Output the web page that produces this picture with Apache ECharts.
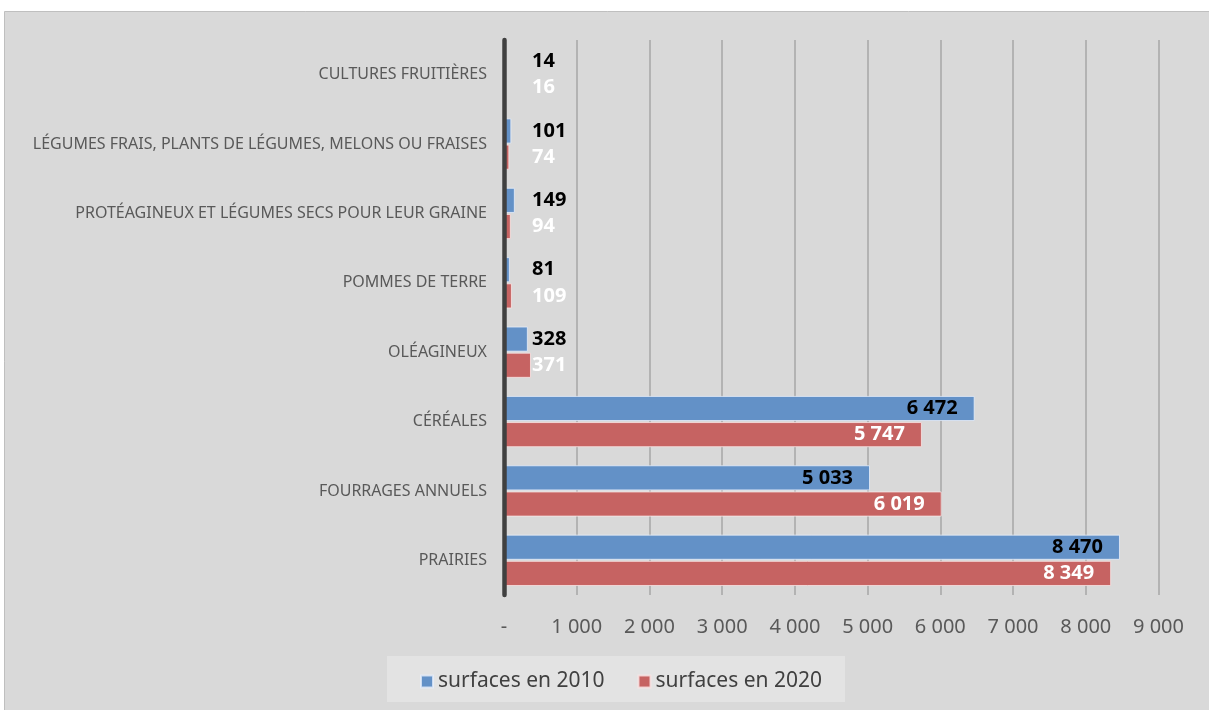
<!DOCTYPE html>
<html>
<head>
<meta charset="utf-8">
<script src="https://cdn.jsdelivr.net/npm/echarts@6/dist/echarts.min.js"></script>
<style>
html,body{margin:0;padding:0;background:#ffffff;}
#chart{width:1209px;height:710px;}
</style>
</head>
<body>
<div id="chart"></div>
<script>
const categories = [
  "CULTURES FRUITIÈRES",
  "LÉGUMES FRAIS, PLANTS DE LÉGUMES, MELONS OU FRAISES",
  "PROTÉAGINEUX ET LÉGUMES SECS POUR LEUR GRAINE",
  "POMMES DE TERRE",
  "OLÉAGINEUX",
  "CÉRÉALES",
  "FOURRAGES ANNUELS",
  "PRAIRIES"
];
const surfaces2010 = [14, 101, 149, 81, 328, 6472, 5033, 8470];
const surfaces2020 = [16, 74, 94, 109, 371, 5747, 6019, 8349];
const xTicks = [0, 1000, 2000, 3000, 4000, 5000, 6000, 7000, 8000, 9000];

function fmt(v) {
  if (v === 0) return '-';
  return String(v).replace(/\B(?=(\d{3})+(?!\d))/g, ' ');
}

function buildData(values, color) {
  return values.map(v => {
    const small = v < 1000;
    return {
      value: v,
      label: small
        ? { show: true, position: [28, '50%'], align: 'left', verticalAlign: 'middle', color: color }
        : { show: true, position: 'insideRight', offset: [-12, 0], color: color }
    };
  });
}

const chart = echarts.init(document.getElementById('chart'));
const labelFont = { fontFamily: 'Noto Sans', fontWeight: 'bold', fontSize: 20, formatter: p => fmt(p.value) };

chart.setOption({
  animation: false,
  backgroundColor: '#ffffff',
  graphic: [
    { type: 'rect', z: -10, shape: { x: 4.5, y: 11.5, width: 1220, height: 720 },
      style: { fill: '#d9d9d9', stroke: '#bfbfbf', lineWidth: 1 } },
    { type: 'rect', z: -9, shape: { x: 387, y: 656, width: 458, height: 46 },
      style: { fill: '#e3e3e3', stroke: null } }
  ],
  grid: { left: 504, right: 50.5, top: 40, bottom: 115, containLabel: false },
  legend: {
    data: ['surfaces en 2010', 'surfaces en 2020'],
    left: 415,
    top: 666,
    itemWidth: 12,
    itemHeight: 12,
    itemGap: 33,
    icon: 'rect',
    textStyle: { fontFamily: 'Noto Sans', fontSize: 21, color: '#404040' }
  },
  xAxis: {
    type: 'value',
    min: 0,
    max: 9000,
    interval: 1000,
    axisLine: { show: false },
    axisTick: { show: false },
    splitLine: { show: true, lineStyle: { color: '#a6a6a6', width: 1.5 } },
    axisLabel: {
      margin: 22,
      fontFamily: 'Noto Sans',
      fontSize: 20,
      color: '#595959',
      customValues: xTicks,
      formatter: v => fmt(v)
    }
  },
  yAxis: {
    type: 'category',
    data: categories,
    inverse: true,
    z: 5,
    axisLine: { show: true, lineStyle: { color: '#404040', width: 4.5 } },
    axisTick: { show: false },
    axisLabel: { margin: 17, fontFamily: 'Noto Sans', fontSize: 16, color: '#595959' }
  },
  series: [
    {
      name: 'surfaces en 2010',
      type: 'bar',
      data: buildData(surfaces2010, '#000000'),
      barGap: '4%',
      barCategoryGap: '26%',
      itemStyle: { color: '#6391c7', borderColor: 'rgba(230,238,250,0.8)', borderWidth: 1 },
      label: labelFont
    },
    {
      name: 'surfaces en 2020',
      type: 'bar',
      data: buildData(surfaces2020, '#ffffff'),
      barGap: '4%',
      barCategoryGap: '26%',
      itemStyle: { color: '#c66362', borderColor: 'rgba(250,230,230,0.8)', borderWidth: 1 },
      label: labelFont
    }
  ]
});
</script>
</body>
</html>
